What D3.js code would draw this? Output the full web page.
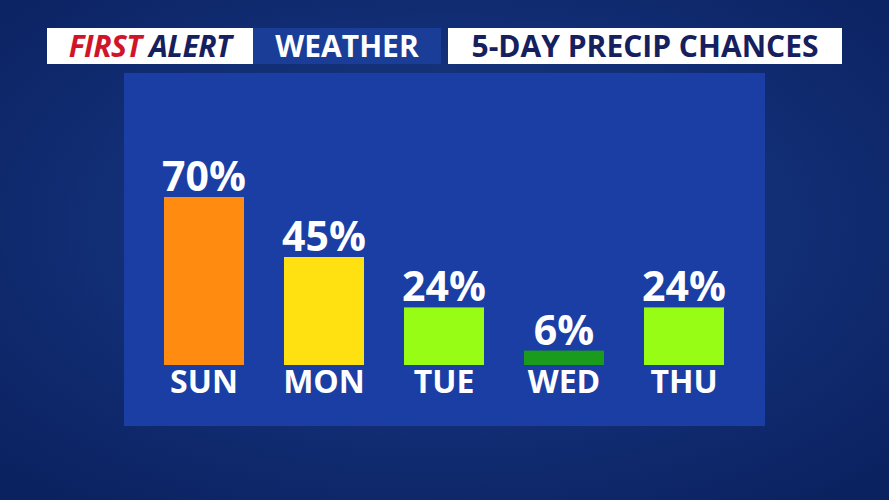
<!DOCTYPE html>
<html><head><meta charset="utf-8">
<script src="https://cdn.jsdelivr.net/npm/d3@7"></script>
<style>body{margin:0;overflow:hidden;background:#0e2a6c}text{font-family:"Open Sans",sans-serif;font-weight:700}</style>
</head><body><svg id="c" width="889" height="500"></svg>
<script>
const days = ["SUN", "MON", "TUE", "WED", "THU"];
const chances = [70, 45, 24, 6, 24];
const barColors = ["#ff8c10", "#ffe112", "#97fd14", "#1b9b1b", "#97fd14"];

const svg = d3.select("#c");
const defs = svg.append("defs");
const bg = defs.append("radialGradient").attr("id", "bg").attr("cx", "50%").attr("cy", "45%").attr("r", "70%");
bg.append("stop").attr("offset", "0%").attr("stop-color", "#1a3c8e");
bg.append("stop").attr("offset", "100%").attr("stop-color", "#0b2260");
svg.append("rect").attr("width", 889).attr("height", 500).attr("fill", "url(#bg)");

// panel
svg.append("rect").attr("x", 124).attr("y", 73).attr("width", 641).attr("height", 353).attr("fill", "#1a3ea4");

// header
svg.append("rect").attr("x", 47).attr("y", 28).attr("width", 206).attr("height", 36).attr("fill", "#fff");
svg.append("rect").attr("x", 253).attr("y", 28).attr("width", 188).attr("height", 36).attr("fill", "#1a3d98");
svg.append("rect").attr("x", 448).attr("y", 28).attr("width", 394).attr("height", 36).attr("fill", "#fff");
const t1 = svg.append("text").attr("x", 150).attr("y", 57).attr("text-anchor", "middle")
  .attr("font-size", 30).attr("font-style", "italic").attr("letter-spacing", -0.5);
t1.append("tspan").attr("fill", "#d0152a").text("FIRST ");
t1.append("tspan").attr("fill", "#16205e").text("ALERT");
svg.append("text").attr("x", 347).attr("y", 57).attr("text-anchor", "middle").attr("font-size", 30)
  .attr("fill", "#fff").text("WEATHER");
svg.append("text").attr("x", 645).attr("y", 57).attr("text-anchor", "middle").attr("font-size", 30)
  .attr("fill", "#16205e").text("5-DAY PRECIP CHANCES");

const x = d3.scaleBand().domain(days).range([144, 744]).paddingInner(1/3).paddingOuter(1/6);
const y = d3.scaleLinear().domain([0, 100]).range([365, 125]);

const g = svg.append("g");
g.selectAll("rect.bar").data(days).join("rect").attr("class", "bar")
  .attr("x", d => x(d)).attr("width", x.bandwidth())
  .attr("y", (d, i) => y(chances[i])).attr("height", (d, i) => y(0) - y(chances[i]))
  .attr("fill", (d, i) => barColors[i]);
g.selectAll("text.pct").data(days).join("text").attr("class", "pct")
  .attr("x", d => x(d) + x.bandwidth() / 2).attr("y", (d, i) => y(chances[i]) - 6)
  .attr("text-anchor", "middle").attr("font-size", 41).attr("fill", "#fff")
  .text((d, i) => chances[i] + "%");
g.selectAll("text.day").data(days).join("text").attr("class", "day")
  .attr("x", d => x(d) + x.bandwidth() / 2).attr("y", 393)
  .attr("text-anchor", "middle").attr("font-size", 32).attr("fill", "#fff").text(d => d);
</script></body></html>
